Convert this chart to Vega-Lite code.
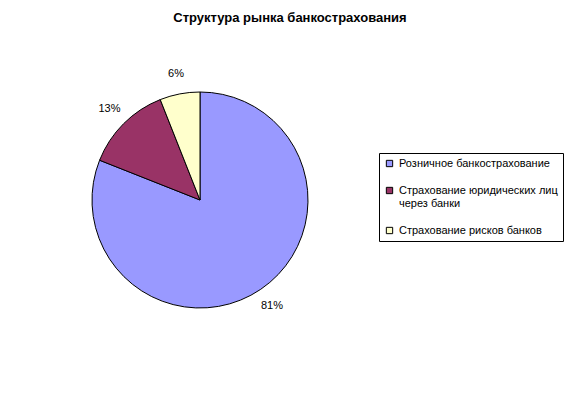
{
  "$schema": "https://vega.github.io/schema/vega-lite/v6.json",
  "autosize": {"type": "none"},
  "padding": {"left": 0, "top": 40, "right": 181, "bottom": 53},
  "width": 400,
  "height": 320,
  "background": "white",
  "title": {
    "text": "Структура рынка банкострахования",
    "font": "Liberation Sans",
    "fontSize": 13,
    "fontWeight": "bold",
    "color": "black",
    "anchor": "middle",
    "dx": 90,
    "offset": 15
  },
  "data": {
    "values": [
      {"category": "Розничное банкострахование", "value": 0.81},
      {"category": "Страхование юридических лиц через банки", "value": 0.13},
      {"category": "Страхование рисков банков", "value": 0.06}
    ]
  },
  "encoding": {
    "theta": {"field": "value", "type": "quantitative", "stack": true},
    "order": {"field": "value", "sort": "descending"}
  },
  "layer": [
    {
      "mark": {"type": "arc", "radius": 108, "stroke": "black", "strokeWidth": 1},
      "encoding": {
        "color": {
          "field": "category",
          "type": "nominal",
          "scale": {
            "domain": ["Розничное банкострахование", "Страхование юридических лиц через банки", "Страхование рисков банков"],
            "range": ["#9999FF", "#993366", "#FFFFCC"]
          },
          "legend": {
            "title": null,
            "orient": "none",
            "legendX": 379,
            "legendY": 113,
            "strokeColor": "black",
            "padding": 5,
            "symbolType": "square",
            "symbolSize": 40,
            "symbolStrokeColor": "black",
            "symbolStrokeWidth": 1,
            "labelFont": "Liberation Sans",
            "labelFontSize": 11,
            "labelColor": "black",
            "labelLimit": 250,
            "labelOffset": 4,
            "rowPadding": 15,
            "labelExpr": "datum.label == 'Страхование юридических лиц через банки' ? ['Страхование юридических лиц', 'через банки'] : datum.label"
          }
        }
      }
    },
    {
      "mark": {"type": "text", "radius": 128, "font": "Liberation Sans", "fontSize": 11, "color": "black"},
      "encoding": {
        "text": {"field": "value", "type": "quantitative", "format": ".0%"}
      }
    }
  ]
}
